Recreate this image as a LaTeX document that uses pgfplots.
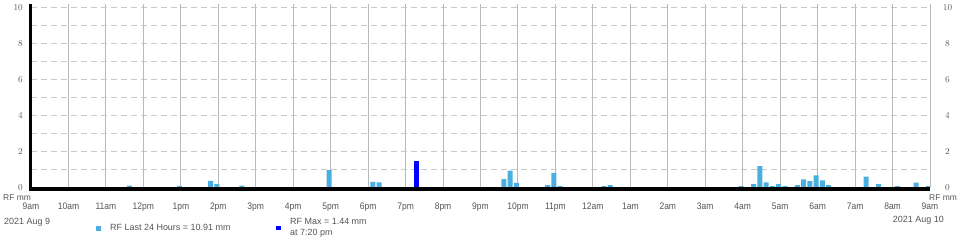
\documentclass[border=0pt]{standalone}
\usepackage{pgfplots}
\pgfplotsset{compat=1.18}
\usepackage{pgfplotstable}
\usepackage{fontspec}
\setmainfont{Liberation Sans}
\newfontfamily\narrowfont{Liberation Sans}[FakeStretch=0.9]
\definecolor{rfblue}{HTML}{4AAFE0}
\definecolor{maxblue}{HTML}{0000FF}
\definecolor{gthick}{HTML}{D2D2D2}
\definecolor{gthin}{HTML}{B9B9B9}
\definecolor{gdash}{HTML}{C8C8C8}
\definecolor{txt}{HTML}{555555}

% t = minutes after 9am (2021 Aug 9), v = rainfall in mm per 10 minutes
\pgfplotstableread{
t v
160 0.10
240 0.08
290 0.36
300 0.18
340 0.10
480 0.96
550 0.30
560 0.27
760 0.45
770 0.92
780 0.24
830 0.12
840 0.80
850 0.07
920 0.07
930 0.12
1140 0.07
1160 0.18
1170 1.18
1180 0.28
1190 0.07
1200 0.18
1210 0.07
1230 0.12
1240 0.44
1250 0.35
1260 0.66
1270 0.39
1280 0.12
1340 0.59
1360 0.18
1390 0.07
1420 0.26
1440 0.07
}\rfdata
\pgfplotstableread{
t v
620 1.44
}\rfmax

\begin{document}
\begin{tikzpicture}[x=1bp,y=1bp]
\useasboundingbox (0,0) rectangle (960,240);
\begin{axis}[
  name=main,
  at={(31bp,52.7bp)}, anchor=south west,
  scale only axis, width=899bp, height=183.6bp,
  xmin=0, xmax=1440, ymin=0, ymax=10.2,
  axis line style={draw=none},
  major tick length=0, minor tick length=0,
  xtick={0,120,...,1440},
  xticklabels={9am,11am,1pm,3pm,5pm,7pm,9pm,11pm,1am,3am,5am,7am,9am},
  extra x ticks={60,180,...,1380},
  extra x tick labels={10am,12pm,2pm,4pm,6pm,8pm,10pm,12am,2am,4am,6am,8am},
  extra x tick style={grid=major, major grid style={gthick, line width=2bp}},
  xmajorgrids,
  major x grid style={gthin, line width=1bp},
  ytick={0,2,...,10},
  minor ytick={1,3,...,9},
  ymajorgrids, yminorgrids,
  major y grid style={gdash, line width=1.3bp, dash pattern=on 6bp off 4bp},
  minor y grid style={gdash, line width=1.3bp, dash pattern=on 6bp off 4bp},
  xticklabel style={font=\narrowfont\fontsize{9.5}{10}\selectfont, text=txt, anchor=base, yshift=-21.7bp},
  yticklabel style={font=\fontsize{9}{10}\selectfont, text=txt, anchor=east, inner sep=0pt, xshift=-8bp},
  ybar, bar width=5bp, bar shift=-1.5bp,
]
\addplot[fill=rfblue, draw=none] table[x=t, y=v] {\rfdata};
\addplot[fill=maxblue, draw=none] table[x=t, y=v] {\rfmax};
\end{axis}
\begin{axis}[
  at={(31bp,52.7bp)}, anchor=south west,
  scale only axis, width=899bp, height=183.6bp,
  xmin=0, xmax=1440, ymin=0, ymax=10.2,
  hide x axis, axis line style={draw=none},
  major tick length=0,
  ytick={0,2,...,10}, yticklabel pos=right,
  yticklabel style={font=\fontsize{9}{10}\selectfont, text=txt, anchor=center, inner sep=0pt, xshift=17.5bp},
]
\end{axis}
% axis lines
\draw[black, line width=4bp] ([xshift=-2bp,yshift=-1.8bp]main.south west) -- ([yshift=-1.8bp]main.south east);
\draw[black, line width=3bp] ([xshift=-0.5bp]main.north west) -- ([xshift=-0.5bp,yshift=-3.7bp]main.south west);
% axis titles and dates
\node[anchor=base west, inner sep=0pt, text=txt, font=\fontsize{8.5}{10}\selectfont] at (3,40) {RF mm};
\node[anchor=base west, inner sep=0pt, text=txt, font=\fontsize{8.5}{10}\selectfont] at (929,40) {RF mm};
\node[anchor=base west, inner sep=0pt, text=txt, font=\fontsize{9}{10}\selectfont] at (4,15.5) {2021 Aug 9};
\node[anchor=base east, inner sep=0pt, text=txt, font=\fontsize{9}{10}\selectfont] at (944,18) {2021 Aug 10};
% legend
\fill[rfblue] (96,9.1) rectangle (100.5,13.6);
\node[anchor=base west, inner sep=0pt, text=txt, font=\fontsize{9}{10}\selectfont] at (110,9.5) {RF Last 24 Hours = 10.91 mm};
\fill[maxblue] (276,10) rectangle (280.5,14.5);
\node[anchor=base west, inner sep=0pt, text=txt, font=\fontsize{9}{10}\selectfont] at (290,15.7) {RF Max = 1.44 mm};
\node[anchor=base west, inner sep=0pt, text=txt, font=\fontsize{9}{10}\selectfont] at (290,4.3) {at 7:20 pm};
\end{tikzpicture}
\end{document}
